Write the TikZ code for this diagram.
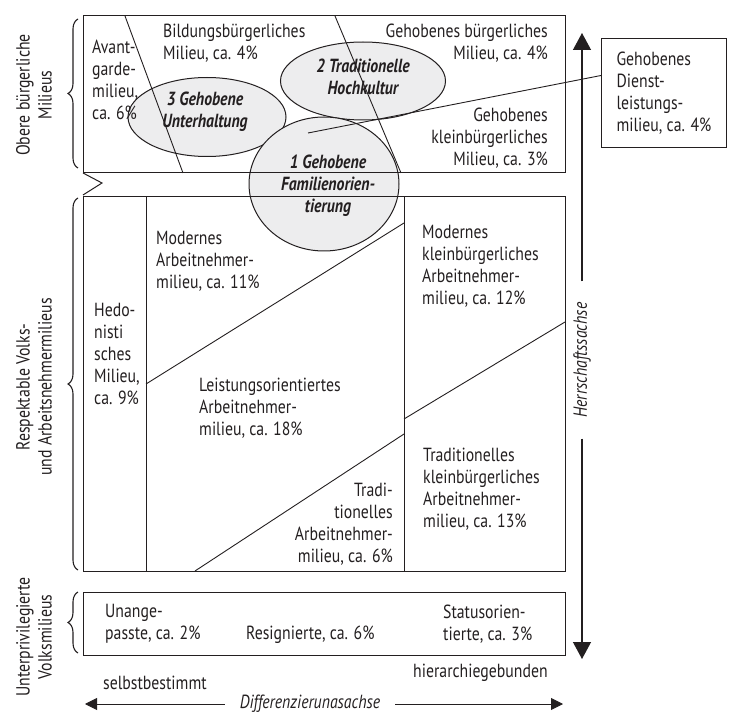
\documentclass[tikz,border=0pt]{standalone}
\usepackage{fontspec}
\setmainfont{PT Sans}[FakeStretch=0.83]
\usetikzlibrary{arrows.meta,shapes.geometric,decorations.pathreplacing}
\definecolor{ink}{HTML}{231F20}
\definecolor{ellgray}{HTML}{EDEDEE}

\tikzset{
  lbl/.style={font=\fontsize{19}{22}\selectfont, inner sep=0pt, align=left, text=ink, anchor=west},
  lblr/.style={lbl, align=right, anchor=east},
  lblit/.style={lbl, anchor=center, font=\fontsize{19}{22}\selectfont\itshape},
  milieu/.style={ellipse, draw=ink, line width=1pt, fill=ellgray, inner sep=0pt},
  miltxt/.style={inner sep=0pt, align=center, text=ink, font=\fontsize{19}{22}\selectfont\bfseries\itshape},
  milbox/.style={draw=ink, line width=1pt},
  divider/.style={draw=ink, line width=0.9pt},
  grp/.style={lbl, anchor=center, align=center, rotate=90},
  grpbrace/.style={draw=ink, line width=1.1pt, decorate, decoration={brace, amplitude=10pt}},
  achse/.style={draw=ink, line width=1.3pt},
}

\begin{document}
\begin{tikzpicture}[x=1pt,y=-1pt]
\useasboundingbox (0,0) rectangle (732,714);

% Kulturmilieus (Ellipsen)
\node[milieu, minimum width=158pt, minimum height=79pt] (unterh) at (207,117) {};
\node[milieu, minimum width=165pt, minimum height=78pt] (hochk) at (363,81) {};
\node[milieu, minimum width=150pt, minimum height=134pt] (famil) at (324,184) {};

% Kaesten
\draw[milbox] (83,16) rectangle (565,173);
\draw[milbox] (83,197) rectangle (565,571);
\draw[milbox] (83,592) rectangle (565,655);
\draw[milbox] (83,173) -- (102,183) -- (83,195);

% Trennlinien oben
\draw[divider] (125,16) -- (183,173);
\draw[divider] (335,16) -- (401,173);

% Trennlinien Mitte
\draw[divider] (146,197) -- (146,571);
\draw[divider] (404,197) -- (404,571);
\draw[divider] (146,384) -- (404,223);
\draw[divider] (404,419) -- (565,322);
\draw[divider] (195,571) -- (404,434);

% Ellipsentexte
\node[miltxt] (unterhtxt) at (205,112) {3 Gehobene\\Unterhaltung};
\node[miltxt] (hochktxt) at (363,77) {2 Traditionelle\\Hochkultur};
\node[miltxt] (familtxt) at (328,186) {1 Gehobene\\Familienorien-\\tierung};

% obere Milieus
\node[lbl] (avant) at (92,80) {Avant-\\garde-\\milieu,\\ca. 6\%};
\node[lbl] (bildung) at (163,43) {Bildungsbürgerliches\\Milieu, ca. 4\%};
\node[lblr] (gehbuerg) at (548,43) {Gehobenes bürgerliches\\Milieu, ca. 4\%};
\node[lblr] (gehklein) at (548,138) {Gehobenes\\kleinbürgerliches\\Milieu, ca. 3\%};

% Dienstleistungsmilieu
\node[lbl, milbox, anchor=north west, minimum width=125pt,
  minimum height=109pt] (dienst) at (601,38) {Gehobenes\\Dienst-\\leistungs-\\milieu, ca. 4\%};
\coordinate (dienstend) at (308,133);
\draw[divider] ([yshift=17.5pt]dienst.west) -- (dienstend);

% mittlere Milieus
\node[lbl] (hedo) at (94,354) {Hedo-\\nisti\\sches\\Milieu,\\ca. 9\%};
\node[lbl] (modarb) at (156,261) {Modernes\\Arbeitnehmer-\\milieu, ca. 11\%};
\node[lbl] (leist) at (199,408) {Leistungsorientiertes\\Arbeitnehmer-\\milieu, ca. 18\%};
\node[lblr] (tradarb) at (393,524) {Tradi-\\tionelles\\Arbeitnehmer-\\milieu, ca. 6\%};
\node[lbl] (modklein) at (422,266) {Modernes\\kleinbürgerliches\\Arbeitnehmer-\\milieu, ca. 12\%};
\node[lbl] (tradklein) at (423,489) {Traditionelles\\kleinbürgerliches\\Arbeitnehmer-\\milieu, ca. 13\%};

% untere Milieus
\node[lbl] (unang) at (105,624) {Unange-\\passte, ca. 2\%};
\node[lbl] (resig) at (246,635) {Resignierte, ca. 6\%};
\node[lbl] (status) at (443,624) {Statusorien-\\tierte, ca. 3\%};

% Gruppen links
\node[grp] (obere) at (34,95) {Obere bürgerliche\\Milieus};
\node[grp] (respekt) at (34,387) {Respektable Volks-\\und Arbeitsnehmermilieus};
\node[grp] (unterpr) at (34,637) {Unterprivilegierte\\Volksmilieus};
\draw[grpbrace] (78,168) -- (78,19);
\draw[grpbrace] (78,570) -- (78,198);
\draw[grpbrace] (78,653) -- (78,592);

% Achsen
\node[lblit, rotate=90, inner xsep=21pt] (herr) at (582,360) {Herrschaftssachse};
\coordinate (herrtop) at (582,33);
\coordinate (herrbot) at (582,659);
\draw[achse, -{Triangle[length=17pt,width=18pt]}] (herr.east) -- (herrtop);
\draw[achse, -{Triangle[length=17pt,width=18pt]}] (herr.west) -- (herrbot);

\node[lblit, inner xsep=15pt] (diff) at (310,704) {Differenzierunasachse};
\coordinate (difflinks) at (85,704);
\coordinate (diffrechts) at (563,704);
\draw[divider, -{Triangle[length=12pt,width=12pt]}] (diff.west) -- (difflinks);
\draw[divider, -{Triangle[length=12pt,width=12pt]}] (diff.east) -- (diffrechts);

\node[lbl] (selbst) at (103,683) {selbstbestimmt};
\node[lbl] (hierarch) at (413,673) {hierarchiegebunden};
\end{tikzpicture}
\end{document}
